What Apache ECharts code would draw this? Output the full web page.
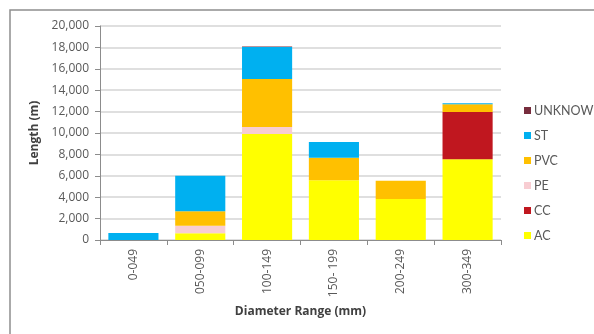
<!DOCTYPE html>
<html>
<head>
<meta charset="utf-8">
<script src="https://cdn.jsdelivr.net/npm/echarts@6/dist/echarts.min.js"></script>
<style>
  html, body { margin: 0; padding: 0; background: #fff; }
  #chart { width: 594px; height: 334px; }
</style>
</head>
<body>
<div id="chart"></div>
<script>
// Pipe length by diameter range, stacked by material
const categories = ['0-049', '050-099', '100-149', '150- 199', '200-249', '300-349'];
const yTicks = [0, 2000, 4000, 6000, 8000, 10000, 12000, 14000, 16000, 18000, 20000];

const AC     = [0,   620, 9900, 5580, 3830, 7540];
const CC     = [0,     0,    0,    0,    0, 4420];
const PE     = [0,   720,  660,    0,    0,    0];
const PVC    = [0,  1340, 4490, 2110, 1710,  720];
const ST     = [650, 3320, 2990, 1470,    0,  100];
const UNKNOW = [0,     0,   40,    0,    0,    0];

const materials = [
  { name: 'AC', data: AC, color: '#FFFF00' },
  { name: 'CC', data: CC, color: '#C0171F' },
  { name: 'PE', data: PE, color: '#F8CDD2' },
  { name: 'PVC', data: PVC, color: '#FFC000' },
  { name: 'ST', data: ST, color: '#00B0F0' },
  { name: 'UNKNOW', data: UNKNOW, color: '#772D3D' }
];

const textColor = '#595959';
const font = 'Open Sans';

const chart = echarts.init(document.getElementById('chart'), null, { renderer: 'canvas' });

chart.setOption({
  animation: false,
  backgroundColor: '#fff',
  graphic: [{
    type: 'rect',
    shape: { x: 10, y: 10, width: 800, height: 600 },
    style: { fill: 'none', stroke: '#8f8f8f', lineWidth: 1.5 },
    silent: true
  }],
  grid: { left: 100, right: 93, top: 26, bottom: 94 },
  legend: {
    orient: 'vertical',
    left: 519,
    top: 99,
    itemWidth: 7,
    itemHeight: 7,
    itemGap: 12,
    icon: 'rect',
    data: ['UNKNOW', 'ST', 'PVC', 'PE', 'CC', 'AC'],
    textStyle: { color: textColor, fontFamily: 'Lato', fontSize: 12.5, padding: [0, 0, 0, -2] }
  },
  xAxis: {
    type: 'category',
    data: categories,
    name: 'Diameter Range (mm)',
    nameLocation: 'middle',
    nameGap: 66,
    nameTextStyle: { color: '#404040', fontFamily: font, fontSize: 12, fontWeight: 'bold' },
    axisLine: { lineStyle: { color: '#8c8c8c', width: 1 } },
    axisTick: { show: true, length: 5, alignWithLabel: false, lineStyle: { color: '#8c8c8c' } },
    axisLabel: { rotate: 90, color: textColor, fontFamily: font, fontSize: 12, margin: 9 }
  },
  yAxis: {
    type: 'value',
    min: yTicks[0],
    max: yTicks[yTicks.length - 1],
    interval: yTicks[1] - yTicks[0],
    name: 'Length (m)',
    nameLocation: 'middle',
    nameGap: 56,
    nameTextStyle: { color: '#404040', fontFamily: font, fontSize: 12, fontWeight: 'bold' },
    axisLine: { show: true, lineStyle: { color: '#8c8c8c', width: 1 } },
    axisTick: { show: true, length: 5, lineStyle: { color: '#8c8c8c' } },
    axisLabel: {
      color: textColor, fontFamily: font, fontSize: 12, margin: 11,
      formatter: v => v.toLocaleString('en-US')
    },
    splitLine: { lineStyle: { color: '#d4d4d4', width: 1.5 } }
  },
  series: materials.map(m => ({
    name: m.name,
    type: 'bar',
    stack: 'len',
    data: m.data,
    barCategoryGap: '25%',
    itemStyle: { color: m.color },
    emphasis: { disabled: true }
  }))
});
</script>
</body>
</html>
